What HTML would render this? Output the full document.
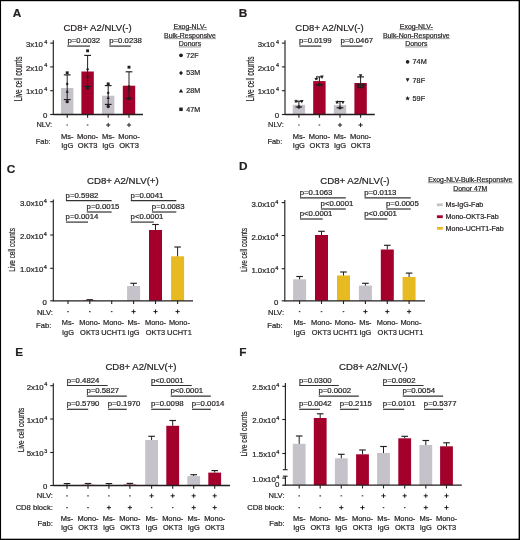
<!DOCTYPE html>
<html><head><meta charset="utf-8"><style>
html,body{margin:0;padding:0;background:#fff;}
body{width:520px;height:540px;overflow:hidden;}
svg{display:block;will-change:transform;}
text{font-family:"Liberation Sans", sans-serif;stroke:#231f20;stroke-width:0.2px;}
</style></head><body>
<svg width="520" height="540" viewBox="0 0 520 540">
<rect x="0" y="0" width="520" height="540" fill="#fff"/>
<text x="12.70" y="16.90" font-size="11.8" font-weight="bold" fill="#231f20">A</text>
<text transform="translate(63.40,31.00) scale(1.095,1)" font-size="8.7" fill="#231f20">CD8+ A2/NLV(-)</text>
<rect x="61.00" y="88.00" width="12.40" height="26.50" fill="#c5c3c9"/>
<rect x="81.40" y="71.50" width="12.40" height="43.00" fill="#a3002b"/>
<rect x="102.00" y="95.70" width="12.40" height="18.80" fill="#c5c3c9"/>
<rect x="122.80" y="85.70" width="12.40" height="28.80" fill="#a3002b"/>
<line x1="53.30" y1="40.20" x2="53.30" y2="115.10" stroke="#231f20" stroke-width="1.15"/>
<line x1="50.20" y1="43.10" x2="53.30" y2="43.10" stroke="#231f20" stroke-width="1.1"/>
<text transform="translate(47.30,46.80) scale(1.060,1)" font-size="7.4" text-anchor="end" fill="#231f20">3x10<tspan font-size="5.2" dx="1.2" dy="-3.3">4</tspan></text>
<line x1="50.20" y1="66.90" x2="53.30" y2="66.90" stroke="#231f20" stroke-width="1.1"/>
<text transform="translate(47.30,70.60) scale(1.060,1)" font-size="7.4" text-anchor="end" fill="#231f20">2x10<tspan font-size="5.2" dx="1.2" dy="-3.3">4</tspan></text>
<line x1="50.20" y1="90.70" x2="53.30" y2="90.70" stroke="#231f20" stroke-width="1.1"/>
<text transform="translate(47.30,94.40) scale(1.060,1)" font-size="7.4" text-anchor="end" fill="#231f20">1x10<tspan font-size="5.2" dx="1.2" dy="-3.3">4</tspan></text>
<line x1="50.20" y1="114.50" x2="53.30" y2="114.50" stroke="#231f20" stroke-width="1.1"/>
<text transform="translate(47.30,118.20) scale(1.060,1)" font-size="7.4" text-anchor="end" fill="#231f20">0</text>
<line x1="53.30" y1="114.50" x2="143.00" y2="114.50" stroke="#231f20" stroke-width="1.3"/>
<line x1="67.20" y1="114.50" x2="67.20" y2="117.70" stroke="#231f20" stroke-width="1.1"/>
<line x1="87.60" y1="114.50" x2="87.60" y2="117.70" stroke="#231f20" stroke-width="1.1"/>
<line x1="108.20" y1="114.50" x2="108.20" y2="117.70" stroke="#231f20" stroke-width="1.1"/>
<line x1="129.00" y1="114.50" x2="129.00" y2="117.70" stroke="#231f20" stroke-width="1.1"/>
<line x1="67.20" y1="74.90" x2="67.20" y2="99.60" stroke="#231f20" stroke-width="1.0"/>
<line x1="63.80" y1="74.90" x2="70.60" y2="74.90" stroke="#231f20" stroke-width="1.15"/>
<line x1="63.80" y1="99.60" x2="70.60" y2="99.60" stroke="#231f20" stroke-width="1.15"/>
<rect x="65.75" y="71.35" width="2.90" height="2.90" fill="#231f20"/>
<path d="M67.20,82.20L68.70,83.90L67.20,85.60L65.70,83.90Z" fill="#231f20"/>
<path d="M67.20,89.80L68.80,92.70L65.60,92.70Z" fill="#231f20"/>
<circle cx="67.20" cy="101.70" r="1.65" fill="#231f20"/>
<line x1="87.60" y1="55.40" x2="87.60" y2="86.40" stroke="#231f20" stroke-width="1.0"/>
<line x1="84.20" y1="55.40" x2="91.00" y2="55.40" stroke="#231f20" stroke-width="1.15"/>
<line x1="84.20" y1="86.40" x2="91.00" y2="86.40" stroke="#231f20" stroke-width="1.15"/>
<rect x="86.15" y="49.35" width="2.90" height="2.90" fill="#231f20"/>
<path d="M87.60,67.60L89.10,69.30L87.60,71.00L86.10,69.30Z" fill="#231f20"/>
<path d="M87.60,74.55L89.20,77.45L86.00,77.45Z" fill="#231f20"/>
<circle cx="87.60" cy="88.00" r="1.65" fill="#231f20"/>
<line x1="108.20" y1="85.60" x2="108.20" y2="104.40" stroke="#231f20" stroke-width="1.0"/>
<line x1="104.80" y1="85.60" x2="111.60" y2="85.60" stroke="#231f20" stroke-width="1.15"/>
<line x1="104.80" y1="104.40" x2="111.60" y2="104.40" stroke="#231f20" stroke-width="1.15"/>
<rect x="106.75" y="82.45" width="2.90" height="2.90" fill="#231f20"/>
<path d="M108.20,91.20L109.70,92.90L108.20,94.60L106.70,92.90Z" fill="#231f20"/>
<path d="M108.20,96.10L109.80,99.00L106.60,99.00Z" fill="#231f20"/>
<circle cx="108.20" cy="106.50" r="1.65" fill="#231f20"/>
<line x1="129.00" y1="71.80" x2="129.00" y2="98.50" stroke="#231f20" stroke-width="1.0"/>
<line x1="125.60" y1="71.80" x2="132.40" y2="71.80" stroke="#231f20" stroke-width="1.15"/>
<line x1="125.60" y1="98.50" x2="132.40" y2="98.50" stroke="#231f20" stroke-width="1.15"/>
<rect x="127.55" y="65.75" width="2.90" height="2.90" fill="#231f20"/>
<path d="M129.00,84.70L130.50,86.40L129.00,88.10L127.50,86.40Z" fill="#231f20"/>
<path d="M129.00,87.70L130.60,90.60L127.40,90.60Z" fill="#231f20"/>
<circle cx="129.00" cy="98.50" r="1.65" fill="#231f20"/>
<text transform="translate(67.45,42.70) scale(1.130,1)" font-size="6.9" fill="#231f20">p=0.0032</text>
<line x1="67.30" y1="46.10" x2="90.00" y2="46.10" stroke="#333333" stroke-width="1.2"/>
<text transform="translate(109.20,42.70) scale(1.130,1)" font-size="6.9" fill="#231f20">p=0.0238</text>
<line x1="109.30" y1="46.10" x2="130.80" y2="46.10" stroke="#333333" stroke-width="1.2"/>
<line x1="66.40" y1="125.00" x2="68.00" y2="125.00" stroke="#444" stroke-width="1.15"/>
<line x1="86.80" y1="125.00" x2="88.40" y2="125.00" stroke="#444" stroke-width="1.15"/>
<line x1="106.10" y1="125.00" x2="110.30" y2="125.00" stroke="#231f20" stroke-width="1.0"/>
<line x1="108.20" y1="122.90" x2="108.20" y2="127.10" stroke="#231f20" stroke-width="1.0"/>
<line x1="126.90" y1="125.00" x2="131.10" y2="125.00" stroke="#231f20" stroke-width="1.0"/>
<line x1="129.00" y1="122.90" x2="129.00" y2="127.10" stroke="#231f20" stroke-width="1.0"/>
<text transform="translate(52.20,127.40) scale(0.930,1)" font-size="8.0" text-anchor="end" fill="#231f20">NLV:</text>
<text transform="translate(50.60,143.50) scale(0.930,1)" font-size="8.0" text-anchor="end" fill="#231f20">Fab:</text>
<text transform="translate(67.20,138.90) scale(1.060,1)" font-size="7.1" text-anchor="middle" fill="#231f20">Ms-</text>
<text transform="translate(67.20,147.90) scale(1.060,1)" font-size="7.1" text-anchor="middle" fill="#231f20">IgG</text>
<text transform="translate(87.60,138.90) scale(1.060,1)" font-size="7.1" text-anchor="middle" fill="#231f20">Mono-</text>
<text transform="translate(87.60,147.90) scale(1.060,1)" font-size="7.1" text-anchor="middle" fill="#231f20">OKT3</text>
<text transform="translate(108.20,138.90) scale(1.060,1)" font-size="7.1" text-anchor="middle" fill="#231f20">Ms-</text>
<text transform="translate(108.20,147.90) scale(1.060,1)" font-size="7.1" text-anchor="middle" fill="#231f20">IgG</text>
<text transform="translate(129.00,138.90) scale(1.060,1)" font-size="7.1" text-anchor="middle" fill="#231f20">Mono-</text>
<text transform="translate(129.00,147.90) scale(1.060,1)" font-size="7.1" text-anchor="middle" fill="#231f20">OKT3</text>
<text transform="translate(21.80,78.90) rotate(-90) scale(0.647,1)" font-size="10.1" text-anchor="middle" fill="#231f20">Live cell counts</text>
<text transform="translate(190.00,28.90) scale(1.080,1)" font-size="6.4" text-anchor="middle" fill="#231f20">Exog-NLV-</text>
<line x1="173.10" y1="29.65" x2="206.90" y2="29.65" stroke="#444" stroke-width="0.55"/>
<text transform="translate(190.00,37.90) scale(1.080,1)" font-size="6.4" text-anchor="middle" fill="#231f20">Bulk-Responsive</text>
<line x1="164.07" y1="38.65" x2="215.93" y2="38.65" stroke="#444" stroke-width="0.55"/>
<text transform="translate(190.00,46.20) scale(1.080,1)" font-size="6.4" text-anchor="middle" fill="#231f20">Donors</text>
<line x1="178.86" y1="46.95" x2="201.14" y2="46.95" stroke="#444" stroke-width="0.55"/>
<circle cx="181.00" cy="55.30" r="1.8974999999999997" fill="#231f20"/>
<text transform="translate(186.30,57.70) scale(1.080,1)" font-size="6.6" fill="#231f20">72F</text>
<path d="M181.00,70.79L182.95,73.00L181.00,75.21L179.05,73.00Z" fill="#231f20"/>
<text transform="translate(186.30,75.40) scale(1.080,1)" font-size="6.6" fill="#231f20">53M</text>
<path d="M181.00,88.70L183.16,92.62L178.84,92.62Z" fill="#231f20"/>
<text transform="translate(186.30,93.40) scale(1.080,1)" font-size="6.6" fill="#231f20">28M</text>
<rect x="179.26" y="107.56" width="3.48" height="3.48" fill="#231f20"/>
<text transform="translate(186.30,111.70) scale(1.080,1)" font-size="6.6" fill="#231f20">47M</text>
<text x="238.80" y="16.80" font-size="11.8" font-weight="bold" fill="#231f20">B</text>
<text transform="translate(295.35,31.00) scale(1.095,1)" font-size="8.7" fill="#231f20">CD8+ A2/NLV(-)</text>
<rect x="292.70" y="104.80" width="12.40" height="9.70" fill="#c5c3c9"/>
<rect x="313.20" y="81.10" width="12.40" height="33.40" fill="#a3002b"/>
<rect x="333.80" y="105.10" width="12.40" height="9.40" fill="#c5c3c9"/>
<rect x="354.40" y="83.00" width="12.40" height="31.50" fill="#a3002b"/>
<line x1="285.00" y1="40.20" x2="285.00" y2="115.10" stroke="#231f20" stroke-width="1.15"/>
<line x1="281.90" y1="43.10" x2="285.00" y2="43.10" stroke="#231f20" stroke-width="1.1"/>
<text transform="translate(279.00,46.80) scale(1.060,1)" font-size="7.4" text-anchor="end" fill="#231f20">3x10<tspan font-size="5.2" dx="1.2" dy="-3.3">4</tspan></text>
<line x1="281.90" y1="66.90" x2="285.00" y2="66.90" stroke="#231f20" stroke-width="1.1"/>
<text transform="translate(279.00,70.60) scale(1.060,1)" font-size="7.4" text-anchor="end" fill="#231f20">2x10<tspan font-size="5.2" dx="1.2" dy="-3.3">4</tspan></text>
<line x1="281.90" y1="90.70" x2="285.00" y2="90.70" stroke="#231f20" stroke-width="1.1"/>
<text transform="translate(279.00,94.40) scale(1.060,1)" font-size="7.4" text-anchor="end" fill="#231f20">1x10<tspan font-size="5.2" dx="1.2" dy="-3.3">4</tspan></text>
<line x1="281.90" y1="114.50" x2="285.00" y2="114.50" stroke="#231f20" stroke-width="1.1"/>
<text transform="translate(279.00,118.20) scale(1.060,1)" font-size="7.4" text-anchor="end" fill="#231f20">0</text>
<line x1="285.00" y1="114.50" x2="374.80" y2="114.50" stroke="#231f20" stroke-width="1.3"/>
<line x1="298.90" y1="114.50" x2="298.90" y2="117.70" stroke="#231f20" stroke-width="1.1"/>
<line x1="319.40" y1="114.50" x2="319.40" y2="117.70" stroke="#231f20" stroke-width="1.1"/>
<line x1="340.00" y1="114.50" x2="340.00" y2="117.70" stroke="#231f20" stroke-width="1.1"/>
<line x1="360.60" y1="114.50" x2="360.60" y2="117.70" stroke="#231f20" stroke-width="1.1"/>
<line x1="298.90" y1="101.25" x2="298.90" y2="107.00" stroke="#231f20" stroke-width="1.0"/>
<line x1="295.50" y1="101.25" x2="302.30" y2="101.25" stroke="#231f20" stroke-width="1.15"/>
<line x1="295.50" y1="107.00" x2="302.30" y2="107.00" stroke="#231f20" stroke-width="1.15"/>
<line x1="319.40" y1="76.90" x2="319.40" y2="84.90" stroke="#231f20" stroke-width="1.0"/>
<line x1="316.00" y1="76.90" x2="322.80" y2="76.90" stroke="#231f20" stroke-width="1.15"/>
<line x1="316.00" y1="84.90" x2="322.80" y2="84.90" stroke="#231f20" stroke-width="1.15"/>
<line x1="340.00" y1="101.50" x2="340.00" y2="107.80" stroke="#231f20" stroke-width="1.0"/>
<line x1="336.60" y1="101.50" x2="343.40" y2="101.50" stroke="#231f20" stroke-width="1.15"/>
<line x1="336.60" y1="107.80" x2="343.40" y2="107.80" stroke="#231f20" stroke-width="1.15"/>
<line x1="360.60" y1="76.90" x2="360.60" y2="87.60" stroke="#231f20" stroke-width="1.0"/>
<line x1="357.20" y1="76.90" x2="364.00" y2="76.90" stroke="#231f20" stroke-width="1.15"/>
<line x1="357.20" y1="87.60" x2="364.00" y2="87.60" stroke="#231f20" stroke-width="1.15"/>
<path d="M296.00,98.90L296.59,100.39L298.19,100.49L296.95,101.51L297.35,103.06L296.00,102.20L294.65,103.06L295.05,101.51L293.81,100.49L295.41,100.39Z" fill="#231f20"/>
<path d="M301.80,103.40L303.55,100.00L300.05,100.00Z" fill="#231f20"/>
<circle cx="298.90" cy="107.00" r="1.65" fill="#231f20"/>
<path d="M316.30,76.40L316.89,77.89L318.49,77.99L317.25,79.01L317.65,80.56L316.30,79.70L314.95,80.56L315.35,79.01L314.11,77.99L315.71,77.89Z" fill="#231f20"/>
<path d="M322.00,78.90L323.75,75.50L320.25,75.50Z" fill="#231f20"/>
<circle cx="319.40" cy="84.90" r="1.65" fill="#231f20"/>
<path d="M337.10,99.90L337.69,101.39L339.29,101.49L338.05,102.51L338.45,104.06L337.10,103.20L335.75,104.06L336.15,102.51L334.91,101.49L336.51,101.39Z" fill="#231f20"/>
<path d="M342.90,104.30L344.65,100.90L341.15,100.90Z" fill="#231f20"/>
<circle cx="340.00" cy="107.80" r="1.65" fill="#231f20"/>
<path d="M360.60,77.70L362.35,74.30L358.85,74.30Z" fill="#231f20"/>
<circle cx="363.40" cy="85.10" r="1.65" fill="#231f20"/>
<path d="M358.30,83.10L358.89,84.59L360.49,84.69L359.25,85.71L359.65,87.26L358.30,86.40L356.95,87.26L357.35,85.71L356.11,84.69L357.71,84.59Z" fill="#231f20"/>
<text transform="translate(298.90,42.70) scale(1.130,1)" font-size="6.9" fill="#231f20">p=0.0199</text>
<line x1="299.30" y1="46.10" x2="321.30" y2="46.10" stroke="#333333" stroke-width="1.2"/>
<text transform="translate(340.40,42.70) scale(1.130,1)" font-size="6.9" fill="#231f20">p=0.0467</text>
<line x1="340.80" y1="46.10" x2="362.50" y2="46.10" stroke="#333333" stroke-width="1.2"/>
<line x1="298.10" y1="125.00" x2="299.70" y2="125.00" stroke="#444" stroke-width="1.15"/>
<line x1="318.60" y1="125.00" x2="320.20" y2="125.00" stroke="#444" stroke-width="1.15"/>
<line x1="337.90" y1="125.00" x2="342.10" y2="125.00" stroke="#231f20" stroke-width="1.0"/>
<line x1="340.00" y1="122.90" x2="340.00" y2="127.10" stroke="#231f20" stroke-width="1.0"/>
<line x1="358.50" y1="125.00" x2="362.70" y2="125.00" stroke="#231f20" stroke-width="1.0"/>
<line x1="360.60" y1="122.90" x2="360.60" y2="127.10" stroke="#231f20" stroke-width="1.0"/>
<text transform="translate(283.80,127.40) scale(0.930,1)" font-size="8.0" text-anchor="end" fill="#231f20">NLV:</text>
<text transform="translate(282.30,143.50) scale(0.930,1)" font-size="8.0" text-anchor="end" fill="#231f20">Fab:</text>
<text transform="translate(298.90,138.90) scale(1.060,1)" font-size="7.1" text-anchor="middle" fill="#231f20">Ms-</text>
<text transform="translate(298.90,147.90) scale(1.060,1)" font-size="7.1" text-anchor="middle" fill="#231f20">IgG</text>
<text transform="translate(319.40,138.90) scale(1.060,1)" font-size="7.1" text-anchor="middle" fill="#231f20">Mono-</text>
<text transform="translate(319.40,147.90) scale(1.060,1)" font-size="7.1" text-anchor="middle" fill="#231f20">OKT3</text>
<text transform="translate(340.00,138.90) scale(1.060,1)" font-size="7.1" text-anchor="middle" fill="#231f20">Ms-</text>
<text transform="translate(340.00,147.90) scale(1.060,1)" font-size="7.1" text-anchor="middle" fill="#231f20">IgG</text>
<text transform="translate(360.60,138.90) scale(1.060,1)" font-size="7.1" text-anchor="middle" fill="#231f20">Mono-</text>
<text transform="translate(360.60,147.90) scale(1.060,1)" font-size="7.1" text-anchor="middle" fill="#231f20">OKT3</text>
<text transform="translate(253.50,78.90) rotate(-90) scale(0.647,1)" font-size="10.1" text-anchor="middle" fill="#231f20">Live cell counts</text>
<text transform="translate(416.30,28.90) scale(1.080,1)" font-size="6.4" text-anchor="middle" fill="#231f20">Exog-NLV-</text>
<line x1="399.40" y1="29.65" x2="433.20" y2="29.65" stroke="#444" stroke-width="0.55"/>
<text transform="translate(416.30,37.90) scale(1.080,1)" font-size="6.4" text-anchor="middle" fill="#231f20">Bulk-Non-Responsive</text>
<line x1="382.88" y1="38.65" x2="449.72" y2="38.65" stroke="#444" stroke-width="0.55"/>
<text transform="translate(416.30,46.20) scale(1.080,1)" font-size="6.4" text-anchor="middle" fill="#231f20">Donors</text>
<line x1="405.16" y1="46.95" x2="427.44" y2="46.95" stroke="#444" stroke-width="0.55"/>
<circle cx="407.60" cy="61.90" r="1.815" fill="#231f20"/>
<text transform="translate(412.60,64.40) scale(1.050,1)" font-size="6.9" fill="#231f20">74M</text>
<path d="M407.60,82.09L409.53,78.35L405.68,78.35Z" fill="#231f20"/>
<text transform="translate(412.60,82.50) scale(1.050,1)" font-size="6.9" fill="#231f20">78F</text>
<path d="M407.60,95.97L408.25,97.61L410.01,97.72L408.65,98.84L409.09,100.55L407.60,99.60L406.11,100.55L406.55,98.84L405.19,97.72L406.95,97.61Z" fill="#231f20"/>
<text transform="translate(412.60,101.00) scale(1.050,1)" font-size="6.9" fill="#231f20">59F</text>
<text x="6.80" y="172.50" font-size="11.8" font-weight="bold" fill="#231f20">C</text>
<text transform="translate(86.95,184.00) scale(1.165,1)" font-size="8.3" fill="#231f20">CD8+ A2/NLV(+)</text>
<rect x="61.50" y="300.80" width="13.00" height="0.00" fill="#c5c3c9"/>
<rect x="83.30" y="300.50" width="13.00" height="0.30" fill="#a3002b"/>
<rect x="105.20" y="300.80" width="13.00" height="0.00" fill="#e7ba22"/>
<rect x="127.10" y="286.00" width="13.00" height="14.80" fill="#c5c3c9"/>
<rect x="149.00" y="230.00" width="13.00" height="70.80" fill="#a3002b"/>
<rect x="171.10" y="256.30" width="13.00" height="44.50" fill="#e7ba22"/>
<line x1="53.30" y1="199.50" x2="53.30" y2="301.40" stroke="#231f20" stroke-width="1.15"/>
<line x1="50.20" y1="201.70" x2="53.30" y2="201.70" stroke="#231f20" stroke-width="1.1"/>
<text transform="translate(46.90,205.70) scale(1.200,1)" font-size="6.5" text-anchor="end" fill="#231f20">3.0x10<tspan font-size="4.6" dx="0.5" dy="-3.0">4</tspan></text>
<line x1="50.20" y1="235.00" x2="53.30" y2="235.00" stroke="#231f20" stroke-width="1.1"/>
<text transform="translate(46.90,239.00) scale(1.200,1)" font-size="6.5" text-anchor="end" fill="#231f20">2.0x10<tspan font-size="4.6" dx="0.5" dy="-3.0">4</tspan></text>
<line x1="50.20" y1="268.30" x2="53.30" y2="268.30" stroke="#231f20" stroke-width="1.1"/>
<text transform="translate(46.90,272.30) scale(1.200,1)" font-size="6.5" text-anchor="end" fill="#231f20">1.0x10<tspan font-size="4.6" dx="0.5" dy="-3.0">4</tspan></text>
<line x1="50.20" y1="300.80" x2="53.30" y2="300.80" stroke="#231f20" stroke-width="1.1"/>
<text transform="translate(46.90,304.80) scale(1.200,1)" font-size="6.5" text-anchor="end" fill="#231f20">0</text>
<line x1="53.30" y1="300.80" x2="193.00" y2="300.80" stroke="#231f20" stroke-width="1.3"/>
<line x1="68.00" y1="300.80" x2="68.00" y2="304.00" stroke="#231f20" stroke-width="1.1"/>
<line x1="89.80" y1="300.80" x2="89.80" y2="304.00" stroke="#231f20" stroke-width="1.1"/>
<line x1="111.70" y1="300.80" x2="111.70" y2="304.00" stroke="#231f20" stroke-width="1.1"/>
<line x1="133.60" y1="300.80" x2="133.60" y2="304.00" stroke="#231f20" stroke-width="1.1"/>
<line x1="155.50" y1="300.80" x2="155.50" y2="304.00" stroke="#231f20" stroke-width="1.1"/>
<line x1="177.60" y1="300.80" x2="177.60" y2="304.00" stroke="#231f20" stroke-width="1.1"/>
<line x1="89.80" y1="300.50" x2="89.80" y2="299.70" stroke="#231f20" stroke-width="1.0"/>
<line x1="86.50" y1="299.70" x2="93.10" y2="299.70" stroke="#231f20" stroke-width="1.15"/>
<line x1="133.60" y1="286.00" x2="133.60" y2="283.30" stroke="#231f20" stroke-width="1.0"/>
<line x1="130.30" y1="283.30" x2="136.90" y2="283.30" stroke="#231f20" stroke-width="1.15"/>
<line x1="155.50" y1="230.00" x2="155.50" y2="224.50" stroke="#231f20" stroke-width="1.0"/>
<line x1="152.20" y1="224.50" x2="158.80" y2="224.50" stroke="#231f20" stroke-width="1.15"/>
<line x1="177.60" y1="256.30" x2="177.60" y2="247.00" stroke="#231f20" stroke-width="1.0"/>
<line x1="174.30" y1="247.00" x2="180.90" y2="247.00" stroke="#231f20" stroke-width="1.15"/>
<text transform="translate(65.60,197.60) scale(1.130,1)" font-size="6.9" fill="#231f20">p=0.5982</text>
<line x1="65.90" y1="200.70" x2="111.70" y2="200.70" stroke="#333333" stroke-width="1.2"/>
<text transform="translate(86.60,208.70) scale(1.130,1)" font-size="6.9" fill="#231f20">p=0.0015</text>
<line x1="86.80" y1="212.00" x2="111.70" y2="212.00" stroke="#333333" stroke-width="1.2"/>
<text transform="translate(65.60,218.60) scale(1.130,1)" font-size="6.9" fill="#231f20">p=0.0014</text>
<line x1="65.90" y1="222.10" x2="88.00" y2="222.10" stroke="#333333" stroke-width="1.2"/>
<text transform="translate(130.60,197.60) scale(1.130,1)" font-size="6.9" fill="#231f20">p=0.0041</text>
<line x1="130.80" y1="200.70" x2="176.30" y2="200.70" stroke="#333333" stroke-width="1.2"/>
<text transform="translate(151.80,208.70) scale(1.130,1)" font-size="6.9" fill="#231f20">p=0.0083</text>
<line x1="152.00" y1="212.00" x2="176.30" y2="212.00" stroke="#333333" stroke-width="1.2"/>
<text transform="translate(130.60,218.60) scale(1.130,1)" font-size="6.9" fill="#231f20">p&lt;0.0001</text>
<line x1="130.80" y1="222.10" x2="153.80" y2="222.10" stroke="#333333" stroke-width="1.2"/>
<line x1="67.20" y1="311.60" x2="68.80" y2="311.60" stroke="#444" stroke-width="1.15"/>
<line x1="89.00" y1="311.60" x2="90.60" y2="311.60" stroke="#444" stroke-width="1.15"/>
<line x1="110.90" y1="311.60" x2="112.50" y2="311.60" stroke="#444" stroke-width="1.15"/>
<line x1="131.50" y1="311.60" x2="135.70" y2="311.60" stroke="#231f20" stroke-width="1.0"/>
<line x1="133.60" y1="309.50" x2="133.60" y2="313.70" stroke="#231f20" stroke-width="1.0"/>
<line x1="153.40" y1="311.60" x2="157.60" y2="311.60" stroke="#231f20" stroke-width="1.0"/>
<line x1="155.50" y1="309.50" x2="155.50" y2="313.70" stroke="#231f20" stroke-width="1.0"/>
<line x1="175.50" y1="311.60" x2="179.70" y2="311.60" stroke="#231f20" stroke-width="1.0"/>
<line x1="177.60" y1="309.50" x2="177.60" y2="313.70" stroke="#231f20" stroke-width="1.0"/>
<text transform="translate(52.90,315.00) scale(1.150,1)" font-size="6.6" text-anchor="end" fill="#231f20">NLV:</text>
<text transform="translate(51.30,328.20) scale(1.150,1)" font-size="6.6" text-anchor="end" fill="#231f20">Fab:</text>
<text transform="translate(68.00,325.40) scale(1.060,1)" font-size="7.0" text-anchor="middle" fill="#231f20">Ms-</text>
<text transform="translate(68.00,334.60) scale(1.060,1)" font-size="7.0" text-anchor="middle" fill="#231f20">IgG</text>
<text transform="translate(89.80,325.40) scale(1.060,1)" font-size="7.0" text-anchor="middle" fill="#231f20">Mono-</text>
<text transform="translate(89.80,334.60) scale(1.060,1)" font-size="7.0" text-anchor="middle" fill="#231f20">OKT3</text>
<text transform="translate(113.50,325.40) scale(1.060,1)" font-size="7.0" text-anchor="middle" fill="#231f20">Mono-</text>
<text transform="translate(113.50,334.60) scale(1.060,1)" font-size="7.0" text-anchor="middle" fill="#231f20">UCHT1</text>
<text transform="translate(133.60,325.40) scale(1.060,1)" font-size="7.0" text-anchor="middle" fill="#231f20">Ms-</text>
<text transform="translate(133.60,334.60) scale(1.060,1)" font-size="7.0" text-anchor="middle" fill="#231f20">IgG</text>
<text transform="translate(155.50,325.40) scale(1.060,1)" font-size="7.0" text-anchor="middle" fill="#231f20">Mono-</text>
<text transform="translate(155.50,334.60) scale(1.060,1)" font-size="7.0" text-anchor="middle" fill="#231f20">OKT3</text>
<text transform="translate(179.40,325.40) scale(1.060,1)" font-size="7.0" text-anchor="middle" fill="#231f20">Mono-</text>
<text transform="translate(179.40,334.60) scale(1.060,1)" font-size="7.0" text-anchor="middle" fill="#231f20">UCHT1</text>
<text transform="translate(14.90,250.00) rotate(-90) scale(0.735,1)" font-size="8.7" text-anchor="middle" fill="#231f20">Live cell counts</text>
<text x="239.00" y="169.70" font-size="11.8" font-weight="bold" fill="#231f20">D</text>
<text transform="translate(320.25,184.00) scale(1.165,1)" font-size="8.3" fill="#231f20">CD8+ A2/NLV(-)</text>
<rect x="293.10" y="279.30" width="13.00" height="21.50" fill="#c5c3c9"/>
<rect x="315.00" y="235.00" width="13.00" height="65.80" fill="#a3002b"/>
<rect x="337.00" y="275.50" width="13.00" height="25.30" fill="#e7ba22"/>
<rect x="358.90" y="285.60" width="13.00" height="15.20" fill="#c5c3c9"/>
<rect x="380.80" y="249.50" width="13.00" height="51.30" fill="#a3002b"/>
<rect x="402.60" y="277.00" width="13.00" height="23.80" fill="#e7ba22"/>
<line x1="284.80" y1="200.00" x2="284.80" y2="301.40" stroke="#231f20" stroke-width="1.15"/>
<line x1="281.70" y1="202.60" x2="284.80" y2="202.60" stroke="#231f20" stroke-width="1.1"/>
<text transform="translate(278.40,206.60) scale(1.200,1)" font-size="6.5" text-anchor="end" fill="#231f20">3.0x10<tspan font-size="4.6" dx="0.5" dy="-3.0">4</tspan></text>
<line x1="281.70" y1="235.50" x2="284.80" y2="235.50" stroke="#231f20" stroke-width="1.1"/>
<text transform="translate(278.40,239.50) scale(1.200,1)" font-size="6.5" text-anchor="end" fill="#231f20">2.0x10<tspan font-size="4.6" dx="0.5" dy="-3.0">4</tspan></text>
<line x1="281.70" y1="268.70" x2="284.80" y2="268.70" stroke="#231f20" stroke-width="1.1"/>
<text transform="translate(278.40,272.70) scale(1.200,1)" font-size="6.5" text-anchor="end" fill="#231f20">1.0x10<tspan font-size="4.6" dx="0.5" dy="-3.0">4</tspan></text>
<line x1="281.70" y1="300.80" x2="284.80" y2="300.80" stroke="#231f20" stroke-width="1.1"/>
<text transform="translate(278.40,304.80) scale(1.200,1)" font-size="6.5" text-anchor="end" fill="#231f20">0</text>
<line x1="284.80" y1="300.80" x2="425.00" y2="300.80" stroke="#231f20" stroke-width="1.3"/>
<line x1="299.60" y1="300.80" x2="299.60" y2="304.00" stroke="#231f20" stroke-width="1.1"/>
<line x1="321.50" y1="300.80" x2="321.50" y2="304.00" stroke="#231f20" stroke-width="1.1"/>
<line x1="343.50" y1="300.80" x2="343.50" y2="304.00" stroke="#231f20" stroke-width="1.1"/>
<line x1="365.40" y1="300.80" x2="365.40" y2="304.00" stroke="#231f20" stroke-width="1.1"/>
<line x1="387.30" y1="300.80" x2="387.30" y2="304.00" stroke="#231f20" stroke-width="1.1"/>
<line x1="409.10" y1="300.80" x2="409.10" y2="304.00" stroke="#231f20" stroke-width="1.1"/>
<line x1="299.60" y1="279.30" x2="299.60" y2="276.50" stroke="#231f20" stroke-width="1.0"/>
<line x1="296.30" y1="276.50" x2="302.90" y2="276.50" stroke="#231f20" stroke-width="1.15"/>
<line x1="321.50" y1="235.00" x2="321.50" y2="231.30" stroke="#231f20" stroke-width="1.0"/>
<line x1="318.20" y1="231.30" x2="324.80" y2="231.30" stroke="#231f20" stroke-width="1.15"/>
<line x1="343.50" y1="275.50" x2="343.50" y2="272.00" stroke="#231f20" stroke-width="1.0"/>
<line x1="340.20" y1="272.00" x2="346.80" y2="272.00" stroke="#231f20" stroke-width="1.15"/>
<line x1="365.40" y1="285.60" x2="365.40" y2="283.30" stroke="#231f20" stroke-width="1.0"/>
<line x1="362.10" y1="283.30" x2="368.70" y2="283.30" stroke="#231f20" stroke-width="1.15"/>
<line x1="387.30" y1="249.50" x2="387.30" y2="245.30" stroke="#231f20" stroke-width="1.0"/>
<line x1="384.00" y1="245.30" x2="390.60" y2="245.30" stroke="#231f20" stroke-width="1.15"/>
<line x1="409.10" y1="277.00" x2="409.10" y2="273.10" stroke="#231f20" stroke-width="1.0"/>
<line x1="405.80" y1="273.10" x2="412.40" y2="273.10" stroke="#231f20" stroke-width="1.15"/>
<text transform="translate(299.70,194.90) scale(1.130,1)" font-size="6.9" fill="#231f20">p=0.1063</text>
<line x1="300.00" y1="197.90" x2="345.80" y2="197.90" stroke="#333333" stroke-width="1.2"/>
<text transform="translate(320.60,205.60) scale(1.130,1)" font-size="6.9" fill="#231f20">p&lt;0.0001</text>
<line x1="320.90" y1="209.00" x2="345.80" y2="209.00" stroke="#333333" stroke-width="1.2"/>
<text transform="translate(299.70,215.70) scale(1.130,1)" font-size="6.9" fill="#231f20">p&lt;0.0001</text>
<line x1="300.00" y1="219.00" x2="322.70" y2="219.00" stroke="#333333" stroke-width="1.2"/>
<text transform="translate(364.20,194.90) scale(1.130,1)" font-size="6.9" fill="#231f20">p=0.0113</text>
<line x1="364.50" y1="197.90" x2="410.80" y2="197.90" stroke="#333333" stroke-width="1.2"/>
<text transform="translate(386.00,205.60) scale(1.130,1)" font-size="6.9" fill="#231f20">p=0.0005</text>
<line x1="386.30" y1="209.00" x2="410.80" y2="209.00" stroke="#333333" stroke-width="1.2"/>
<text transform="translate(364.20,215.70) scale(1.130,1)" font-size="6.9" fill="#231f20">p&lt;0.0001</text>
<line x1="364.50" y1="219.00" x2="387.50" y2="219.00" stroke="#333333" stroke-width="1.2"/>
<line x1="298.80" y1="311.60" x2="300.40" y2="311.60" stroke="#444" stroke-width="1.15"/>
<line x1="320.70" y1="311.60" x2="322.30" y2="311.60" stroke="#444" stroke-width="1.15"/>
<line x1="342.70" y1="311.60" x2="344.30" y2="311.60" stroke="#444" stroke-width="1.15"/>
<line x1="363.30" y1="311.60" x2="367.50" y2="311.60" stroke="#231f20" stroke-width="1.0"/>
<line x1="365.40" y1="309.50" x2="365.40" y2="313.70" stroke="#231f20" stroke-width="1.0"/>
<line x1="385.20" y1="311.60" x2="389.40" y2="311.60" stroke="#231f20" stroke-width="1.0"/>
<line x1="387.30" y1="309.50" x2="387.30" y2="313.70" stroke="#231f20" stroke-width="1.0"/>
<line x1="407.00" y1="311.60" x2="411.20" y2="311.60" stroke="#231f20" stroke-width="1.0"/>
<line x1="409.10" y1="309.50" x2="409.10" y2="313.70" stroke="#231f20" stroke-width="1.0"/>
<text transform="translate(284.00,315.00) scale(1.150,1)" font-size="6.6" text-anchor="end" fill="#231f20">NLV:</text>
<text transform="translate(282.50,328.20) scale(1.150,1)" font-size="6.6" text-anchor="end" fill="#231f20">Fab:</text>
<text transform="translate(299.60,325.40) scale(1.060,1)" font-size="7.0" text-anchor="middle" fill="#231f20">Ms-</text>
<text transform="translate(299.60,334.60) scale(1.060,1)" font-size="7.0" text-anchor="middle" fill="#231f20">IgG</text>
<text transform="translate(321.50,325.40) scale(1.060,1)" font-size="7.0" text-anchor="middle" fill="#231f20">Mono-</text>
<text transform="translate(321.50,334.60) scale(1.060,1)" font-size="7.0" text-anchor="middle" fill="#231f20">OKT3</text>
<text transform="translate(345.30,325.40) scale(1.060,1)" font-size="7.0" text-anchor="middle" fill="#231f20">Mono-</text>
<text transform="translate(345.30,334.60) scale(1.060,1)" font-size="7.0" text-anchor="middle" fill="#231f20">UCHT1</text>
<text transform="translate(365.40,325.40) scale(1.060,1)" font-size="7.0" text-anchor="middle" fill="#231f20">Ms-</text>
<text transform="translate(365.40,334.60) scale(1.060,1)" font-size="7.0" text-anchor="middle" fill="#231f20">IgG</text>
<text transform="translate(387.30,325.40) scale(1.060,1)" font-size="7.0" text-anchor="middle" fill="#231f20">Mono-</text>
<text transform="translate(387.30,334.60) scale(1.060,1)" font-size="7.0" text-anchor="middle" fill="#231f20">OKT3</text>
<text transform="translate(410.90,325.40) scale(1.060,1)" font-size="7.0" text-anchor="middle" fill="#231f20">Mono-</text>
<text transform="translate(410.90,334.60) scale(1.060,1)" font-size="7.0" text-anchor="middle" fill="#231f20">UCHT1</text>
<text transform="translate(247.00,250.00) rotate(-90) scale(0.710,1)" font-size="9.1" text-anchor="middle" fill="#231f20">Live cell counts</text>
<text transform="translate(470.30,182.00) scale(1.090,1)" font-size="6.3" text-anchor="middle" fill="#231f20">Exog-NLV-Bulk-Responsive</text>
<line x1="427.75" y1="182.75" x2="512.85" y2="182.75" stroke="#444" stroke-width="0.55"/>
<text transform="translate(470.30,190.60) scale(1.090,1)" font-size="6.3" text-anchor="middle" fill="#231f20">Donor 47M</text>
<line x1="453.32" y1="191.35" x2="487.28" y2="191.35" stroke="#444" stroke-width="0.55"/>
<rect x="436.90" y="203.40" width="5.90" height="2.80" fill="#c5c3c9"/>
<text transform="translate(445.60,207.20) scale(1.090,1)" font-size="6.5" fill="#231f20">Ms-IgG-Fab</text>
<rect x="436.90" y="215.30" width="5.90" height="2.80" fill="#a3002b"/>
<text transform="translate(445.60,219.10) scale(1.090,1)" font-size="6.5" fill="#231f20">Mono-OKT3-Fab</text>
<rect x="436.90" y="226.90" width="5.90" height="2.80" fill="#e7ba22"/>
<text transform="translate(445.60,230.70) scale(1.090,1)" font-size="6.5" fill="#231f20">Mono-UCHT1-Fab</text>
<text x="15.20" y="355.80" font-size="11.8" font-weight="bold" fill="#231f20">E</text>
<text transform="translate(105.40,370.00) scale(1.155,1)" font-size="8.3" fill="#231f20">CD8+ A2/NLV(+)</text>
<rect x="60.60" y="485.00" width="12.80" height="0.50" fill="#c5c3c9"/>
<rect x="81.60" y="484.80" width="12.80" height="0.70" fill="#a3002b"/>
<rect x="102.50" y="485.00" width="12.80" height="0.50" fill="#c5c3c9"/>
<rect x="123.50" y="484.60" width="12.80" height="0.90" fill="#a3002b"/>
<rect x="145.20" y="440.00" width="12.80" height="45.50" fill="#c5c3c9"/>
<rect x="166.30" y="425.80" width="12.80" height="59.70" fill="#a3002b"/>
<rect x="187.30" y="476.10" width="12.80" height="9.40" fill="#c5c3c9"/>
<rect x="208.30" y="472.60" width="12.80" height="12.90" fill="#a3002b"/>
<line x1="53.30" y1="383.20" x2="53.30" y2="486.10" stroke="#231f20" stroke-width="1.15"/>
<line x1="50.20" y1="385.70" x2="53.30" y2="385.70" stroke="#231f20" stroke-width="1.1"/>
<text transform="translate(47.30,389.50) scale(1.160,1)" font-size="6.75" text-anchor="end" fill="#231f20">2x10<tspan font-size="4.7" dx="0.5" dy="-3.1">4</tspan></text>
<line x1="50.20" y1="419.00" x2="53.30" y2="419.00" stroke="#231f20" stroke-width="1.1"/>
<text transform="translate(47.30,422.80) scale(1.160,1)" font-size="6.75" text-anchor="end" fill="#231f20">1x10<tspan font-size="4.7" dx="0.5" dy="-3.1">4</tspan></text>
<line x1="50.20" y1="452.50" x2="53.30" y2="452.50" stroke="#231f20" stroke-width="1.1"/>
<text transform="translate(47.30,456.30) scale(1.160,1)" font-size="6.75" text-anchor="end" fill="#231f20">5x10<tspan font-size="4.7" dx="0.5" dy="-3.1">3</tspan></text>
<line x1="50.20" y1="485.50" x2="53.30" y2="485.50" stroke="#231f20" stroke-width="1.1"/>
<text transform="translate(47.30,489.30) scale(1.160,1)" font-size="6.75" text-anchor="end" fill="#231f20">0</text>
<line x1="53.30" y1="485.50" x2="230.00" y2="485.50" stroke="#231f20" stroke-width="1.3"/>
<line x1="67.00" y1="485.50" x2="67.00" y2="488.70" stroke="#231f20" stroke-width="1.1"/>
<line x1="88.00" y1="485.50" x2="88.00" y2="488.70" stroke="#231f20" stroke-width="1.1"/>
<line x1="108.90" y1="485.50" x2="108.90" y2="488.70" stroke="#231f20" stroke-width="1.1"/>
<line x1="129.90" y1="485.50" x2="129.90" y2="488.70" stroke="#231f20" stroke-width="1.1"/>
<line x1="151.60" y1="485.50" x2="151.60" y2="488.70" stroke="#231f20" stroke-width="1.1"/>
<line x1="172.70" y1="485.50" x2="172.70" y2="488.70" stroke="#231f20" stroke-width="1.1"/>
<line x1="193.70" y1="485.50" x2="193.70" y2="488.70" stroke="#231f20" stroke-width="1.1"/>
<line x1="214.70" y1="485.50" x2="214.70" y2="488.70" stroke="#231f20" stroke-width="1.1"/>
<line x1="67.00" y1="485.00" x2="67.00" y2="483.60" stroke="#231f20" stroke-width="1.0"/>
<line x1="63.70" y1="483.60" x2="70.30" y2="483.60" stroke="#231f20" stroke-width="1.15"/>
<line x1="88.00" y1="484.80" x2="88.00" y2="483.50" stroke="#231f20" stroke-width="1.0"/>
<line x1="84.70" y1="483.50" x2="91.30" y2="483.50" stroke="#231f20" stroke-width="1.15"/>
<line x1="108.90" y1="485.00" x2="108.90" y2="483.60" stroke="#231f20" stroke-width="1.0"/>
<line x1="105.60" y1="483.60" x2="112.20" y2="483.60" stroke="#231f20" stroke-width="1.15"/>
<line x1="129.90" y1="484.60" x2="129.90" y2="483.40" stroke="#231f20" stroke-width="1.0"/>
<line x1="126.60" y1="483.40" x2="133.20" y2="483.40" stroke="#231f20" stroke-width="1.15"/>
<line x1="151.60" y1="440.00" x2="151.60" y2="436.30" stroke="#231f20" stroke-width="1.0"/>
<line x1="148.30" y1="436.30" x2="154.90" y2="436.30" stroke="#231f20" stroke-width="1.15"/>
<line x1="172.70" y1="425.80" x2="172.70" y2="420.50" stroke="#231f20" stroke-width="1.0"/>
<line x1="169.40" y1="420.50" x2="176.00" y2="420.50" stroke="#231f20" stroke-width="1.15"/>
<line x1="193.70" y1="476.10" x2="193.70" y2="474.70" stroke="#231f20" stroke-width="1.0"/>
<line x1="190.40" y1="474.70" x2="197.00" y2="474.70" stroke="#231f20" stroke-width="1.15"/>
<line x1="214.70" y1="472.60" x2="214.70" y2="470.60" stroke="#231f20" stroke-width="1.0"/>
<line x1="211.40" y1="470.60" x2="218.00" y2="470.60" stroke="#231f20" stroke-width="1.15"/>
<text transform="translate(66.70,382.50) scale(1.130,1)" font-size="6.9" fill="#231f20">p=0.4824</text>
<line x1="67.00" y1="385.50" x2="107.70" y2="385.50" stroke="#333333" stroke-width="1.2"/>
<text transform="translate(86.40,392.90) scale(1.130,1)" font-size="6.9" fill="#231f20">p=0.5827</text>
<line x1="86.80" y1="396.20" x2="126.80" y2="396.20" stroke="#333333" stroke-width="1.2"/>
<text transform="translate(66.70,406.00) scale(1.130,1)" font-size="6.9" fill="#231f20">p=0.5790</text>
<line x1="67.00" y1="409.30" x2="88.20" y2="409.30" stroke="#333333" stroke-width="1.2"/>
<text transform="translate(107.70,406.00) scale(1.130,1)" font-size="6.9" fill="#231f20">p=0.1970</text>
<line x1="108.00" y1="409.30" x2="126.80" y2="409.30" stroke="#333333" stroke-width="1.2"/>
<text transform="translate(150.90,382.50) scale(1.130,1)" font-size="6.9" fill="#231f20">p&lt;0.0001</text>
<line x1="151.20" y1="385.50" x2="191.80" y2="385.50" stroke="#333333" stroke-width="1.2"/>
<text transform="translate(170.40,392.90) scale(1.130,1)" font-size="6.9" fill="#231f20">p&lt;0.0001</text>
<line x1="170.70" y1="396.20" x2="210.80" y2="396.20" stroke="#333333" stroke-width="1.2"/>
<text transform="translate(150.90,406.00) scale(1.130,1)" font-size="6.9" fill="#231f20">p=0.0098</text>
<line x1="151.20" y1="409.30" x2="170.50" y2="409.30" stroke="#333333" stroke-width="1.2"/>
<text transform="translate(191.70,406.00) scale(1.130,1)" font-size="6.9" fill="#231f20">p=0.0014</text>
<line x1="192.00" y1="409.30" x2="210.80" y2="409.30" stroke="#333333" stroke-width="1.2"/>
<line x1="66.20" y1="495.80" x2="67.80" y2="495.80" stroke="#444" stroke-width="1.15"/>
<line x1="87.20" y1="495.80" x2="88.80" y2="495.80" stroke="#444" stroke-width="1.15"/>
<line x1="108.10" y1="495.80" x2="109.70" y2="495.80" stroke="#444" stroke-width="1.15"/>
<line x1="129.10" y1="495.80" x2="130.70" y2="495.80" stroke="#444" stroke-width="1.15"/>
<line x1="149.50" y1="495.80" x2="153.70" y2="495.80" stroke="#231f20" stroke-width="1.0"/>
<line x1="151.60" y1="493.70" x2="151.60" y2="497.90" stroke="#231f20" stroke-width="1.0"/>
<line x1="170.60" y1="495.80" x2="174.80" y2="495.80" stroke="#231f20" stroke-width="1.0"/>
<line x1="172.70" y1="493.70" x2="172.70" y2="497.90" stroke="#231f20" stroke-width="1.0"/>
<line x1="191.60" y1="495.80" x2="195.80" y2="495.80" stroke="#231f20" stroke-width="1.0"/>
<line x1="193.70" y1="493.70" x2="193.70" y2="497.90" stroke="#231f20" stroke-width="1.0"/>
<line x1="212.60" y1="495.80" x2="216.80" y2="495.80" stroke="#231f20" stroke-width="1.0"/>
<line x1="214.70" y1="493.70" x2="214.70" y2="497.90" stroke="#231f20" stroke-width="1.0"/>
<line x1="66.20" y1="507.60" x2="67.80" y2="507.60" stroke="#444" stroke-width="1.15"/>
<line x1="87.20" y1="507.60" x2="88.80" y2="507.60" stroke="#444" stroke-width="1.15"/>
<line x1="106.80" y1="507.60" x2="111.00" y2="507.60" stroke="#231f20" stroke-width="1.0"/>
<line x1="108.90" y1="505.50" x2="108.90" y2="509.70" stroke="#231f20" stroke-width="1.0"/>
<line x1="127.80" y1="507.60" x2="132.00" y2="507.60" stroke="#231f20" stroke-width="1.0"/>
<line x1="129.90" y1="505.50" x2="129.90" y2="509.70" stroke="#231f20" stroke-width="1.0"/>
<line x1="150.80" y1="507.60" x2="152.40" y2="507.60" stroke="#444" stroke-width="1.15"/>
<line x1="171.90" y1="507.60" x2="173.50" y2="507.60" stroke="#444" stroke-width="1.15"/>
<line x1="191.60" y1="507.60" x2="195.80" y2="507.60" stroke="#231f20" stroke-width="1.0"/>
<line x1="193.70" y1="505.50" x2="193.70" y2="509.70" stroke="#231f20" stroke-width="1.0"/>
<line x1="212.60" y1="507.60" x2="216.80" y2="507.60" stroke="#231f20" stroke-width="1.0"/>
<line x1="214.70" y1="505.50" x2="214.70" y2="509.70" stroke="#231f20" stroke-width="1.0"/>
<text transform="translate(52.80,498.20) scale(1.120,1)" font-size="6.8" text-anchor="end" fill="#231f20">NLV:</text>
<text transform="translate(52.80,509.90) scale(1.120,1)" font-size="6.8" text-anchor="end" fill="#231f20">CD8 block:</text>
<text transform="translate(52.80,526.30) scale(1.120,1)" font-size="6.8" text-anchor="end" fill="#231f20">Fab:</text>
<text transform="translate(67.00,521.30) scale(1.130,1)" font-size="6.6" text-anchor="middle" fill="#231f20">Ms-</text>
<text transform="translate(67.00,530.40) scale(1.130,1)" font-size="6.6" text-anchor="middle" fill="#231f20">IgG</text>
<text transform="translate(88.00,521.30) scale(1.130,1)" font-size="6.6" text-anchor="middle" fill="#231f20">Mono-</text>
<text transform="translate(88.00,530.40) scale(1.130,1)" font-size="6.6" text-anchor="middle" fill="#231f20">OKT3</text>
<text transform="translate(108.90,521.30) scale(1.130,1)" font-size="6.6" text-anchor="middle" fill="#231f20">Ms-</text>
<text transform="translate(108.90,530.40) scale(1.130,1)" font-size="6.6" text-anchor="middle" fill="#231f20">IgG</text>
<text transform="translate(129.90,521.30) scale(1.130,1)" font-size="6.6" text-anchor="middle" fill="#231f20">Mono-</text>
<text transform="translate(129.90,530.40) scale(1.130,1)" font-size="6.6" text-anchor="middle" fill="#231f20">OKT3</text>
<text transform="translate(151.60,521.30) scale(1.130,1)" font-size="6.6" text-anchor="middle" fill="#231f20">Ms-</text>
<text transform="translate(151.60,530.40) scale(1.130,1)" font-size="6.6" text-anchor="middle" fill="#231f20">IgG</text>
<text transform="translate(172.70,521.30) scale(1.130,1)" font-size="6.6" text-anchor="middle" fill="#231f20">Mono-</text>
<text transform="translate(172.70,530.40) scale(1.130,1)" font-size="6.6" text-anchor="middle" fill="#231f20">OKT3</text>
<text transform="translate(193.70,521.30) scale(1.130,1)" font-size="6.6" text-anchor="middle" fill="#231f20">Ms-</text>
<text transform="translate(193.70,530.40) scale(1.130,1)" font-size="6.6" text-anchor="middle" fill="#231f20">IgG</text>
<text transform="translate(214.70,521.30) scale(1.130,1)" font-size="6.6" text-anchor="middle" fill="#231f20">Mono-</text>
<text transform="translate(214.70,530.40) scale(1.130,1)" font-size="6.6" text-anchor="middle" fill="#231f20">OKT3</text>
<text transform="translate(23.80,430.00) rotate(-90) scale(0.740,1)" font-size="8.8" text-anchor="middle" fill="#231f20">Live cell counts</text>
<text x="239.20" y="355.60" font-size="11.8" font-weight="bold" fill="#231f20">F</text>
<text transform="translate(339.05,370.00) scale(1.155,1)" font-size="8.3" fill="#231f20">CD8+ A2/NLV(-)</text>
<rect x="292.80" y="443.80" width="12.80" height="41.40" fill="#c5c3c9"/>
<rect x="313.80" y="418.00" width="12.80" height="67.20" fill="#a3002b"/>
<rect x="334.90" y="458.30" width="12.80" height="26.90" fill="#c5c3c9"/>
<rect x="356.10" y="454.30" width="12.80" height="30.90" fill="#a3002b"/>
<rect x="377.10" y="453.00" width="12.80" height="32.20" fill="#c5c3c9"/>
<rect x="398.30" y="438.30" width="12.80" height="46.90" fill="#a3002b"/>
<rect x="419.40" y="445.00" width="12.80" height="40.20" fill="#c5c3c9"/>
<rect x="440.10" y="446.30" width="12.80" height="38.90" fill="#a3002b"/>
<line x1="285.40" y1="383.00" x2="285.40" y2="469.70" stroke="#231f20" stroke-width="1.15"/>
<line x1="282.80" y1="469.70" x2="287.60" y2="469.70" stroke="#231f20" stroke-width="1.1"/>
<line x1="282.80" y1="476.20" x2="287.60" y2="476.20" stroke="#231f20" stroke-width="1.1"/>
<line x1="285.40" y1="476.20" x2="285.40" y2="485.80" stroke="#231f20" stroke-width="1.15"/>
<line x1="282.30" y1="386.30" x2="285.40" y2="386.30" stroke="#231f20" stroke-width="1.1"/>
<text transform="translate(279.40,390.10) scale(1.160,1)" font-size="6.75" text-anchor="end" fill="#231f20">2.5x10<tspan font-size="4.7" dx="0.5" dy="-3.1">4</tspan></text>
<line x1="282.30" y1="419.50" x2="285.40" y2="419.50" stroke="#231f20" stroke-width="1.1"/>
<text transform="translate(279.40,423.30) scale(1.160,1)" font-size="6.75" text-anchor="end" fill="#231f20">2.0x10<tspan font-size="4.7" dx="0.5" dy="-3.1">4</tspan></text>
<line x1="282.30" y1="453.50" x2="285.40" y2="453.50" stroke="#231f20" stroke-width="1.1"/>
<text transform="translate(279.40,457.30) scale(1.160,1)" font-size="6.75" text-anchor="end" fill="#231f20">1.5x10<tspan font-size="4.7" dx="0.5" dy="-3.1">4</tspan></text>
<line x1="282.30" y1="478.10" x2="285.40" y2="478.10" stroke="#231f20" stroke-width="1.1"/>
<text transform="translate(279.40,481.90) scale(1.160,1)" font-size="6.75" text-anchor="end" fill="#231f20">1.0x10<tspan font-size="4.7" dx="0.5" dy="-3.1">4</tspan></text>
<line x1="282.30" y1="485.20" x2="285.40" y2="485.20" stroke="#231f20" stroke-width="1.3"/>
<text transform="translate(279.40,487.40) scale(1.160,1)" font-size="6.75" text-anchor="end" fill="#231f20">0</text>
<line x1="285.40" y1="485.20" x2="461.80" y2="485.20" stroke="#231f20" stroke-width="1.3"/>
<line x1="299.20" y1="485.20" x2="299.20" y2="488.40" stroke="#231f20" stroke-width="1.1"/>
<line x1="320.20" y1="485.20" x2="320.20" y2="488.40" stroke="#231f20" stroke-width="1.1"/>
<line x1="341.30" y1="485.20" x2="341.30" y2="488.40" stroke="#231f20" stroke-width="1.1"/>
<line x1="362.50" y1="485.20" x2="362.50" y2="488.40" stroke="#231f20" stroke-width="1.1"/>
<line x1="383.50" y1="485.20" x2="383.50" y2="488.40" stroke="#231f20" stroke-width="1.1"/>
<line x1="404.70" y1="485.20" x2="404.70" y2="488.40" stroke="#231f20" stroke-width="1.1"/>
<line x1="425.80" y1="485.20" x2="425.80" y2="488.40" stroke="#231f20" stroke-width="1.1"/>
<line x1="446.50" y1="485.20" x2="446.50" y2="488.40" stroke="#231f20" stroke-width="1.1"/>
<line x1="299.20" y1="443.80" x2="299.20" y2="436.00" stroke="#231f20" stroke-width="1.0"/>
<line x1="295.90" y1="436.00" x2="302.50" y2="436.00" stroke="#231f20" stroke-width="1.15"/>
<line x1="320.20" y1="418.00" x2="320.20" y2="413.80" stroke="#231f20" stroke-width="1.0"/>
<line x1="316.90" y1="413.80" x2="323.50" y2="413.80" stroke="#231f20" stroke-width="1.15"/>
<line x1="341.30" y1="458.30" x2="341.30" y2="454.30" stroke="#231f20" stroke-width="1.0"/>
<line x1="338.00" y1="454.30" x2="344.60" y2="454.30" stroke="#231f20" stroke-width="1.15"/>
<line x1="362.50" y1="454.30" x2="362.50" y2="450.00" stroke="#231f20" stroke-width="1.0"/>
<line x1="359.20" y1="450.00" x2="365.80" y2="450.00" stroke="#231f20" stroke-width="1.15"/>
<line x1="383.50" y1="453.00" x2="383.50" y2="446.50" stroke="#231f20" stroke-width="1.0"/>
<line x1="380.20" y1="446.50" x2="386.80" y2="446.50" stroke="#231f20" stroke-width="1.15"/>
<line x1="404.70" y1="438.30" x2="404.70" y2="436.30" stroke="#231f20" stroke-width="1.0"/>
<line x1="401.40" y1="436.30" x2="408.00" y2="436.30" stroke="#231f20" stroke-width="1.15"/>
<line x1="425.80" y1="445.00" x2="425.80" y2="440.50" stroke="#231f20" stroke-width="1.0"/>
<line x1="422.50" y1="440.50" x2="429.10" y2="440.50" stroke="#231f20" stroke-width="1.15"/>
<line x1="446.50" y1="446.30" x2="446.50" y2="442.80" stroke="#231f20" stroke-width="1.0"/>
<line x1="443.20" y1="442.80" x2="449.80" y2="442.80" stroke="#231f20" stroke-width="1.15"/>
<text transform="translate(298.90,382.50) scale(1.130,1)" font-size="6.9" fill="#231f20">p=0.0300</text>
<line x1="299.20" y1="385.50" x2="338.80" y2="385.50" stroke="#333333" stroke-width="1.2"/>
<text transform="translate(318.40,392.90) scale(1.130,1)" font-size="6.9" fill="#231f20">p=0.0002</text>
<line x1="318.70" y1="396.20" x2="358.80" y2="396.20" stroke="#333333" stroke-width="1.2"/>
<text transform="translate(298.90,406.00) scale(1.130,1)" font-size="6.9" fill="#231f20">p=0.0042</text>
<line x1="299.20" y1="409.30" x2="320.00" y2="409.30" stroke="#333333" stroke-width="1.2"/>
<text transform="translate(339.70,406.00) scale(1.130,1)" font-size="6.9" fill="#231f20">p=0.2115</text>
<line x1="340.00" y1="409.30" x2="358.80" y2="409.30" stroke="#333333" stroke-width="1.2"/>
<text transform="translate(382.80,382.50) scale(1.130,1)" font-size="6.9" fill="#231f20">p=0.0902</text>
<line x1="383.10" y1="385.50" x2="423.50" y2="385.50" stroke="#333333" stroke-width="1.2"/>
<text transform="translate(402.40,392.90) scale(1.130,1)" font-size="6.9" fill="#231f20">p=0.0054</text>
<line x1="402.70" y1="396.20" x2="443.10" y2="396.20" stroke="#333333" stroke-width="1.2"/>
<text transform="translate(382.80,406.00) scale(1.130,1)" font-size="6.9" fill="#231f20">p=0.0101</text>
<line x1="383.10" y1="409.30" x2="404.20" y2="409.30" stroke="#333333" stroke-width="1.2"/>
<text transform="translate(423.80,406.00) scale(1.130,1)" font-size="6.9" fill="#231f20">p=0.5377</text>
<line x1="424.10" y1="409.30" x2="443.10" y2="409.30" stroke="#333333" stroke-width="1.2"/>
<line x1="298.40" y1="495.80" x2="300.00" y2="495.80" stroke="#444" stroke-width="1.15"/>
<line x1="319.40" y1="495.80" x2="321.00" y2="495.80" stroke="#444" stroke-width="1.15"/>
<line x1="340.50" y1="495.80" x2="342.10" y2="495.80" stroke="#444" stroke-width="1.15"/>
<line x1="361.70" y1="495.80" x2="363.30" y2="495.80" stroke="#444" stroke-width="1.15"/>
<line x1="381.40" y1="495.80" x2="385.60" y2="495.80" stroke="#231f20" stroke-width="1.0"/>
<line x1="383.50" y1="493.70" x2="383.50" y2="497.90" stroke="#231f20" stroke-width="1.0"/>
<line x1="402.60" y1="495.80" x2="406.80" y2="495.80" stroke="#231f20" stroke-width="1.0"/>
<line x1="404.70" y1="493.70" x2="404.70" y2="497.90" stroke="#231f20" stroke-width="1.0"/>
<line x1="423.70" y1="495.80" x2="427.90" y2="495.80" stroke="#231f20" stroke-width="1.0"/>
<line x1="425.80" y1="493.70" x2="425.80" y2="497.90" stroke="#231f20" stroke-width="1.0"/>
<line x1="444.40" y1="495.80" x2="448.60" y2="495.80" stroke="#231f20" stroke-width="1.0"/>
<line x1="446.50" y1="493.70" x2="446.50" y2="497.90" stroke="#231f20" stroke-width="1.0"/>
<line x1="298.40" y1="507.60" x2="300.00" y2="507.60" stroke="#444" stroke-width="1.15"/>
<line x1="319.40" y1="507.60" x2="321.00" y2="507.60" stroke="#444" stroke-width="1.15"/>
<line x1="339.20" y1="507.60" x2="343.40" y2="507.60" stroke="#231f20" stroke-width="1.0"/>
<line x1="341.30" y1="505.50" x2="341.30" y2="509.70" stroke="#231f20" stroke-width="1.0"/>
<line x1="360.40" y1="507.60" x2="364.60" y2="507.60" stroke="#231f20" stroke-width="1.0"/>
<line x1="362.50" y1="505.50" x2="362.50" y2="509.70" stroke="#231f20" stroke-width="1.0"/>
<line x1="382.70" y1="507.60" x2="384.30" y2="507.60" stroke="#444" stroke-width="1.15"/>
<line x1="403.90" y1="507.60" x2="405.50" y2="507.60" stroke="#444" stroke-width="1.15"/>
<line x1="423.70" y1="507.60" x2="427.90" y2="507.60" stroke="#231f20" stroke-width="1.0"/>
<line x1="425.80" y1="505.50" x2="425.80" y2="509.70" stroke="#231f20" stroke-width="1.0"/>
<line x1="444.40" y1="507.60" x2="448.60" y2="507.60" stroke="#231f20" stroke-width="1.0"/>
<line x1="446.50" y1="505.50" x2="446.50" y2="509.70" stroke="#231f20" stroke-width="1.0"/>
<text transform="translate(284.50,498.20) scale(1.120,1)" font-size="6.8" text-anchor="end" fill="#231f20">NLV:</text>
<text transform="translate(284.50,509.90) scale(1.120,1)" font-size="6.8" text-anchor="end" fill="#231f20">CD8 block:</text>
<text transform="translate(284.50,526.30) scale(1.120,1)" font-size="6.8" text-anchor="end" fill="#231f20">Fab:</text>
<text transform="translate(299.20,521.30) scale(1.130,1)" font-size="6.6" text-anchor="middle" fill="#231f20">Ms-</text>
<text transform="translate(299.20,530.40) scale(1.130,1)" font-size="6.6" text-anchor="middle" fill="#231f20">IgG</text>
<text transform="translate(320.20,521.30) scale(1.130,1)" font-size="6.6" text-anchor="middle" fill="#231f20">Mono-</text>
<text transform="translate(320.20,530.40) scale(1.130,1)" font-size="6.6" text-anchor="middle" fill="#231f20">OKT3</text>
<text transform="translate(341.30,521.30) scale(1.130,1)" font-size="6.6" text-anchor="middle" fill="#231f20">Ms-</text>
<text transform="translate(341.30,530.40) scale(1.130,1)" font-size="6.6" text-anchor="middle" fill="#231f20">IgG</text>
<text transform="translate(362.50,521.30) scale(1.130,1)" font-size="6.6" text-anchor="middle" fill="#231f20">Mono-</text>
<text transform="translate(362.50,530.40) scale(1.130,1)" font-size="6.6" text-anchor="middle" fill="#231f20">OKT3</text>
<text transform="translate(383.50,521.30) scale(1.130,1)" font-size="6.6" text-anchor="middle" fill="#231f20">Ms-</text>
<text transform="translate(383.50,530.40) scale(1.130,1)" font-size="6.6" text-anchor="middle" fill="#231f20">IgG</text>
<text transform="translate(404.70,521.30) scale(1.130,1)" font-size="6.6" text-anchor="middle" fill="#231f20">Mono-</text>
<text transform="translate(404.70,530.40) scale(1.130,1)" font-size="6.6" text-anchor="middle" fill="#231f20">OKT3</text>
<text transform="translate(425.80,521.30) scale(1.130,1)" font-size="6.6" text-anchor="middle" fill="#231f20">Ms-</text>
<text transform="translate(425.80,530.40) scale(1.130,1)" font-size="6.6" text-anchor="middle" fill="#231f20">IgG</text>
<text transform="translate(446.50,521.30) scale(1.130,1)" font-size="6.6" text-anchor="middle" fill="#231f20">Mono-</text>
<text transform="translate(446.50,530.40) scale(1.130,1)" font-size="6.6" text-anchor="middle" fill="#231f20">OKT3</text>
<text transform="translate(246.70,434.00) rotate(-90) scale(0.760,1)" font-size="8.7" text-anchor="middle" fill="#231f20">Live cell counts</text>
<rect x="0" y="0" width="1.05" height="540" fill="#000"/><rect x="0" y="0" width="520" height="1.2" fill="#000"/><rect x="518.6" y="0" width="1.4" height="540" fill="#000"/><rect x="0" y="538.7" width="520" height="1.3" fill="#000"/>
</svg>
</body></html>
